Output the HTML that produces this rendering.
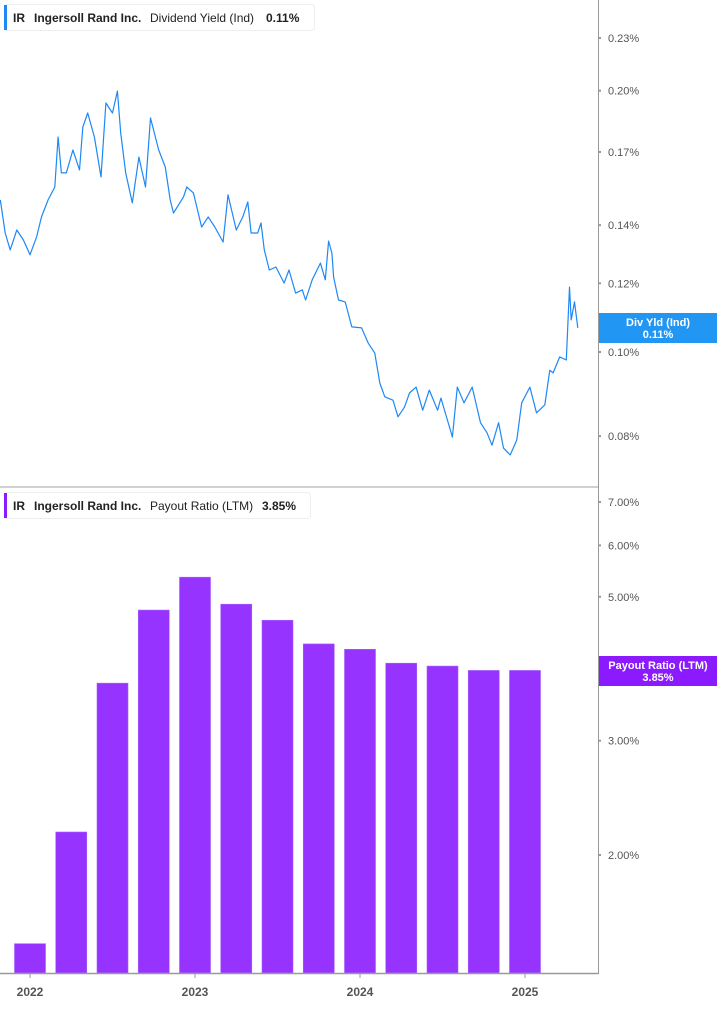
<!DOCTYPE html>
<html><head><meta charset="utf-8">
<style>
body{margin:0;background:#fff;font-family:"Liberation Sans",sans-serif;}
svg text{font-family:"Liberation Sans",sans-serif;}
</style></head>
<body>
<svg id="chart" width="717" height="1005" viewBox="0 0 717 1005" xmlns="http://www.w3.org/2000/svg">
<rect x="0" y="0" width="717" height="1005" fill="#fff"/>
<g id="topPanel"></g>
<g id="botPanel"></g>
<line x1="0" y1="487" x2="598" y2="487" stroke="#d0d0d0" stroke-width="2"/>
<line x1="598.5" y1="0" x2="598.5" y2="974" stroke="#999" stroke-width="1"/>
<line x1="0" y1="973.5" x2="598" y2="973.5" stroke="#999" stroke-width="1.5"/>
<g>
<rect x="4.5" y="4.5" width="310" height="26" rx="3" fill="#fff" stroke="#eee"/>
<rect x="4" y="5" width="3" height="25" fill="#1e88f5"/>
<text x="13" y="22" font-size="12" font-weight="bold" fill="#222">IR</text>
<text x="34" y="22" font-size="12" font-weight="bold" fill="#222">Ingersoll Rand Inc.</text>
<text x="150" y="22" font-size="12" fill="#222">Dividend Yield (Ind)</text>
<text x="266" y="22" font-size="12" font-weight="bold" fill="#222">0.11%</text>
</g>
<g>
<rect x="4.5" y="492.5" width="306" height="26" rx="3" fill="#fff" stroke="#eee"/>
<rect x="4" y="493" width="3" height="25" fill="#8c1aff"/>
<text x="13" y="510" font-size="12" font-weight="bold" fill="#222">IR</text>
<text x="34" y="510" font-size="12" font-weight="bold" fill="#222">Ingersoll Rand Inc.</text>
<text x="150" y="510" font-size="12" fill="#222">Payout Ratio (LTM)</text>
<text x="262" y="510" font-size="12" font-weight="bold" fill="#222">3.85%</text>
</g>
</svg>
<script>
const lineDates=[2021.82,2021.85,2021.88,2021.92,2021.96,2022.00,2022.04,2022.07,2022.11,2022.15,2022.17,2022.19,2022.22,2022.26,2022.30,2022.32,2022.35,2022.39,2022.43,2022.46,2022.50,2022.53,2022.55,2022.58,2022.62,2022.66,2022.70,2022.73,2022.78,2022.82,2022.85,2022.87,2022.93,2022.95,2022.99,2023.04,2023.08,2023.12,2023.17,2023.20,2023.25,2023.29,2023.32,2023.34,2023.38,2023.40,2023.42,2023.45,2023.49,2023.54,2023.57,2023.61,2023.65,2023.67,2023.71,2023.76,2023.79,2023.81,2023.83,2023.84,2023.87,2023.91,2023.95,2024.01,2024.05,2024.09,2024.12,2024.15,2024.20,2024.23,2024.27,2024.30,2024.34,2024.38,2024.42,2024.47,2024.49,2024.53,2024.56,2024.59,2024.63,2024.68,2024.73,2024.77,2024.80,2024.84,2024.87,2024.91,2024.95,2024.98,2025.03,2025.07,2025.12,2025.15,2025.17,2025.21,2025.25,2025.27,2025.28,2025.30,2025.32];
const yieldValues=[0.1497,0.1371,0.1311,0.1382,0.1346,0.1294,0.1357,0.1431,0.1497,0.1549,0.1769,0.1608,0.1608,0.1709,0.1621,0.1816,0.1885,0.1769,0.1591,0.1936,0.1885,0.1998,0.1788,0.1608,0.1485,0.1677,0.1549,0.1860,0.1709,0.1633,0.1497,0.1446,0.1509,0.1549,0.1525,0.1393,0.1431,0.1393,0.1339,0.1517,0.1382,0.1431,0.1489,0.1371,0.1371,0.1408,0.1311,0.1243,0.1253,0.1201,0.1243,0.1169,0.1179,0.1148,0.1211,0.1266,0.1211,0.1342,0.1300,0.1220,0.1148,0.1142,0.1069,0.1066,0.1024,0.0997,0.0921,0.0888,0.0880,0.0842,0.0864,0.0897,0.0911,0.0857,0.0904,0.0857,0.0885,0.0835,0.0798,0.0911,0.0874,0.0911,0.0829,0.0807,0.0781,0.0829,0.0775,0.0761,0.0792,0.0874,0.0911,0.0851,0.0869,0.0953,0.0946,0.0987,0.0979,0.1188,0.1089,0.1142,0.1066];
const yieldTicks=[0.23,0.20,0.17,0.14,0.12,0.10,0.08];
const barDates=[2022.00,2022.25,2022.50,2022.75,2023.00,2023.25,2023.50,2023.75,2024.00,2024.25,2024.50,2024.75,2025.00];
const payoutValues=[1.46,2.17,3.68,4.77,5.36,4.87,4.60,4.23,4.15,3.95,3.91,3.85,3.85];
const payoutTicks=[7,6,5,3,2];
const yearTicks=[2022,2023,2024,2025];

const NS="http://www.w3.org/2000/svg";
const svgEl=document.getElementById('chart');
const topG=document.getElementById('topPanel'), botG=document.getElementById('botPanel');
function xS(t){return 30+(t-2022)*165;}
function yTop(v){return 38+Math.log(0.23/v)*377;}
function yBot(v){return 855-Math.log(v/2)*281.8;}
function mk(tag,attrs,parent){const e=document.createElementNS(NS,tag);for(const k in attrs)e.setAttribute(k,attrs[k]);parent.appendChild(e);return e;}

yieldTicks.forEach(v=>{
  const y=yTop(v);
  const t=mk('text',{x:608,y:y+4,'font-size':11,fill:'#555'},svgEl);
  t.textContent=v.toFixed(2)+'%';
  
  
  const m=mk('rect',{x:599,y:y-1,width:2,height:2,fill:'#999'},svgEl);
  
  
});
let d='';
lineDates.forEach((t,i)=>{d+=(i?'L':'M')+xS(t).toFixed(1)+','+yTop(yieldValues[i]).toFixed(1);});
const p=mk('path',{d:d,fill:'none',stroke:'#1e88f5','stroke-width':1.2,'stroke-linejoin':'round'},topG);



payoutTicks.forEach(v=>{
  const y=yBot(v);
  const t=mk('text',{x:608,y:y+4,'font-size':11,fill:'#555'},svgEl);
  t.textContent=v.toFixed(2)+'%';
  
  
  const m=mk('rect',{x:599,y:y-1,width:2,height:2,fill:'#999'},svgEl);
  
  
});
barDates.forEach((t,i)=>{
  const y=yBot(payoutValues[i]);
  const b=mk('rect',{x:xS(t)-15.5,y:y,width:31,height:973-y,fill:'#9633fe',stroke:'#a761ff','stroke-width':0.6},botG);
  
  
});
yearTicks.forEach(yr=>{
  const x=xS(yr);
  const l=mk('line',{x1:x,y1:974,x2:x,y2:978,stroke:'#999'},svgEl);
  
  
  const t=mk('text',{x:x,y:996,'font-size':12,'font-weight':'bold',fill:'#555','text-anchor':'middle'},svgEl);
  t.textContent=yr;
  
  
});
function badge(y,color,l1,l2,name){
  const g=mk('g',{},svgEl);
  
  
  mk('rect',{x:599,y:y-15,width:118,height:30,fill:color},g);
  const a=mk('text',{x:658,y:y-2,'font-size':11,'font-weight':'bold',fill:'#fff','text-anchor':'middle'},g);a.textContent=l1;
  const b=mk('text',{x:658,y:y+10,'font-size':11,'font-weight':'bold',fill:'#fff','text-anchor':'middle'},g);b.textContent=l2;
}
badge(328,'#2196f3','Div Yld (Ind)','0.11%','div-yield-badge');
badge(671,'#8c1aff','Payout Ratio (LTM)','3.85%','payout-ratio-badge');
</script>
</body></html>
